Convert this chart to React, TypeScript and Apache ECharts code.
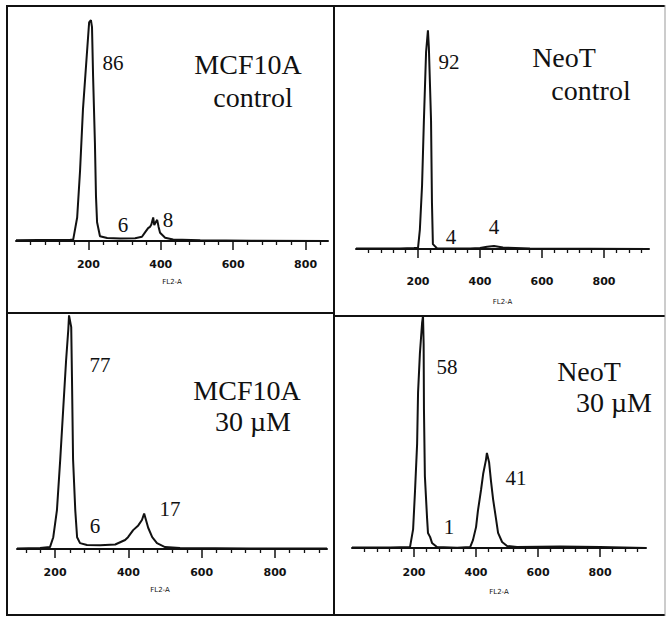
import React, { useEffect, useRef } from "react";
import * as echarts from "echarts";

// ---------- data ----------
const TICK_LABELS = [200, 400, 600, 800];
const MINOR_TICKS = [40, 80, 120, 160, 240, 280, 320, 360, 440, 480, 520, 560, 640, 680, 720, 760, 840, 880, 920];

// FL2-A (x) vs relative cell count (y, % of panel height)
const MCF_CONTROL: [number, number][] = [
  [0, 0.3], [60, 0.4], [122, 0.4], [150, 0.5], [158, 0.6], [169, 10], [177, 30], [185, 56], [196, 80],
  [202, 93], [207, 94], [210, 91], [213, 70], [218, 42], [221, 19], [224, 8], [232, 2], [252, 1.3],
  [288, 1.1], [329, 1.2], [348, 1.8], [357, 3.8], [365, 5.5], [370, 6], [374, 7], [379, 10], [382, 6.8],
  [386, 8], [390, 9], [394, 6], [398, 3.5], [412, 1.4], [434, 0.6], [509, 0.3], [650, 0.1], [862, 0],
];
const NEOT_CONTROL: [number, number][] = [
  [0, 0.2], [142, 0.2], [187, 0.4], [200, 0.5], [206, 8], [213, 26], [219, 53], [226, 81], [232, 90],
  [235, 83], [242, 53], [245, 19], [248, 2], [261, 0.3], [368, 0.2], [400, 0.4], [423, 0.9], [445, 1.2],
  [474, 0.6], [561, 0.2], [945, 0],
];
const MCF_30UM: [number, number][] = [
  [96, 0.2], [159, 0.4], [186, 0.8], [195, 5], [205, 16.5], [214, 38], [222, 59], [230, 80], [236, 93],
  [238, 99], [244, 94], [246, 73], [249, 38], [255, 16.5], [260, 5], [268, 2.5], [287, 1.7], [323, 1.6],
  [364, 1.9], [391, 3.8], [399, 5], [413, 8], [427, 10], [437, 12.3], [443, 15], [448, 12.3], [454, 9],
  [465, 5], [478, 2.5], [500, 0.8], [541, 0.4], [732, 0.2], [942, 0.2],
];
const NEOT_30UM: [number, number][] = [
  [0, 0.2], [123, 0.2], [187, 0.4], [197, 8], [203, 24], [210, 45], [213, 67], [219, 84], [226, 97],
  [229, 100], [231, 88], [232, 60], [235, 31], [242, 13], [245, 6.5], [252, 4.7], [258, 2.2], [274, 0.4],
  [339, 0.1], [381, 0.4], [390, 3.4], [400, 9], [406, 16], [416, 25], [423, 32], [432, 38], [435, 41],
  [442, 37], [448, 29], [455, 21], [465, 12], [471, 6.5], [484, 2.6], [500, 0.9], [532, 0.4], [671, 0.6],
  [800, 0.4], [948, 0],
];

const PERCENTS = [
  ["86", "6", "8"],
  ["92", "4", "4"],
  ["77", "6", "17"],
  ["58", "1", "41"],
];
const TITLES = [
  ["MCF10A", "control"],
  ["NeoT", "control"],
  ["MCF10A", "30 µM"],
  ["NeoT", "30 µM"],
];
const AXIS_NAME = "FL2-A";

// ---------- layout ----------
const PANELS = [
  {
    data: MCF_CONTROL,
    grid: { left: 16, top: 6, width: 312, height: 235 },
    xMin: 0, xMax: 862, labelMargin: 18, nameGap: 37, namePad: [0, 0, 0, 0],
    pctPos: [[113, 63], [123, 225], [168, 220]],
    titlePos: [[248, 64], [253, 97]],
  },
  {
    data: NEOT_CONTROL,
    grid: { left: 356, top: 6, width: 293, height: 243 },
    xMin: 0, xMax: 945, labelMargin: 27, nameGap: 49, namePad: [0, 0, 0, 0],
    pctPos: [[449, 62], [451, 237], [494, 227]],
    titlePos: [[564, 57], [591, 90]],
  },
  {
    data: MCF_30UM,
    grid: { left: 17, top: 313, width: 310, height: 236 },
    xMin: 96, xMax: 942, labelMargin: 18, nameGap: 37, namePad: [0, 24, 0, 0],
    pctPos: [[100, 365], [95, 526], [170, 509]],
    titlePos: [[247, 390], [253, 421]],
  },
  {
    data: NEOT_30UM,
    grid: { left: 352, top: 316, width: 294, height: 232 },
    xMin: 0, xMax: 948, labelMargin: 19, nameGap: 40, namePad: [0, 0, 0, 0],
    pctPos: [[447, 367], [449, 527], [516, 478]],
    titlePos: [[589, 371], [614, 402]],
  },
];

const INK = "#111";
const SERIF = "Liberation Serif";

function buildOption() {
  const grids: any[] = [];
  const xAxes: any[] = [];
  const yAxes: any[] = [];
  const series: any[] = [];
  const graphics: any[] = [];

  PANELS.forEach((p, i) => {
    // main grid (index 2i) and an overlay grid (2i+1) for the long major ticks
    grids.push({ ...p.grid, containLabel: false });
    grids.push({ ...p.grid, containLabel: false });
    const minor = MINOR_TICKS.filter((v) => v > p.xMin && v < p.xMax);
    xAxes.push({
      type: "value",
      gridIndex: 2 * i,
      position: "bottom",
      min: p.xMin,
      max: p.xMax,
      axisLine: { show: true, onZero: false, lineStyle: { color: INK, width: 2 } },
      axisTick: { show: true, customValues: minor, length: 4, lineStyle: { color: INK, width: 1.3 } },
      axisLabel: {
        show: true,
        customValues: TICK_LABELS,
        margin: p.labelMargin,
        color: INK,
        fontFamily: "DejaVu Sans",
        fontWeight: "bold",
        fontSize: 11,
      },
      splitLine: { show: false },
      name: AXIS_NAME,
      nameLocation: "middle",
      nameGap: p.nameGap,
      nameTextStyle: { fontSize: 7, color: INK, fontFamily: "DejaVu Sans", padding: p.namePad },
    });
    xAxes.push({
      type: "value",
      gridIndex: 2 * i + 1,
      position: "bottom",
      min: p.xMin,
      max: p.xMax,
      axisLine: { show: false, onZero: false },
      axisTick: { show: true, customValues: TICK_LABELS, length: 9, lineStyle: { color: INK, width: 1.5 } },
      axisLabel: { show: false },
      splitLine: { show: false },
    });
    yAxes.push({ type: "value", gridIndex: 2 * i, min: 0, max: 100, show: false });
    yAxes.push({ type: "value", gridIndex: 2 * i + 1, min: 0, max: 100, show: false });

    series.push({
      type: "line",
      xAxisIndex: 2 * i,
      yAxisIndex: 2 * i,
      data: p.data,
      showSymbol: false,
      symbol: "none",
      silent: true,
      lineStyle: { color: INK, width: 2 },
    });

    PERCENTS[i].forEach((t, k) => {
      graphics.push({
        type: "text",
        x: p.pctPos[k][0],
        y: p.pctPos[k][1],
        style: {
          text: t, fill: INK, fontFamily: SERIF, fontSize: 21,
          textAlign: "center", textVerticalAlign: "middle",
        },
      });
    });
    TITLES[i].forEach((t, k) => {
      graphics.push({
        type: "text",
        x: p.titlePos[k][0],
        y: p.titlePos[k][1],
        style: {
          text: t, fill: INK, fontFamily: SERIF, fontSize: 28,
          textAlign: "center", textVerticalAlign: "middle",
        },
      });
    });
  });

  const frame = (x1: number, y1: number, x2: number, y2: number, w = 2, c = INK) => ({
    type: "line",
    shape: { x1, y1, x2, y2 },
    style: { stroke: c, lineWidth: w },
    silent: true,
  });
  graphics.push(frame(6, 6, 665, 6));
  graphics.push(frame(7, 5, 7, 616));
  graphics.push(frame(6, 615, 665, 615));
  graphics.push(frame(334, 5, 334, 616));
  graphics.push(frame(7, 313, 334, 313));
  graphics.push(frame(334, 316, 665, 316));
  graphics.push(frame(665, 5, 665, 616, 1, "#999"));

  return {
    animation: false,
    backgroundColor: "#fff",
    grid: grids,
    xAxis: xAxes,
    yAxis: yAxes,
    series,
    graphic: graphics,
  };
}

export default function App() {
  const ref = useRef<HTMLDivElement>(null);
  useEffect(() => {
    if (!ref.current) return;
    const chart = echarts.init(ref.current, undefined, { renderer: "svg" });
    chart.setOption(buildOption() as any);
    return () => chart.dispose();
  }, []);
  return (
    <div
      ref={ref}
      style={{ position: "fixed", left: 0, top: 0, width: 668, height: 620, background: "#fff" }}
    />
  );
}
